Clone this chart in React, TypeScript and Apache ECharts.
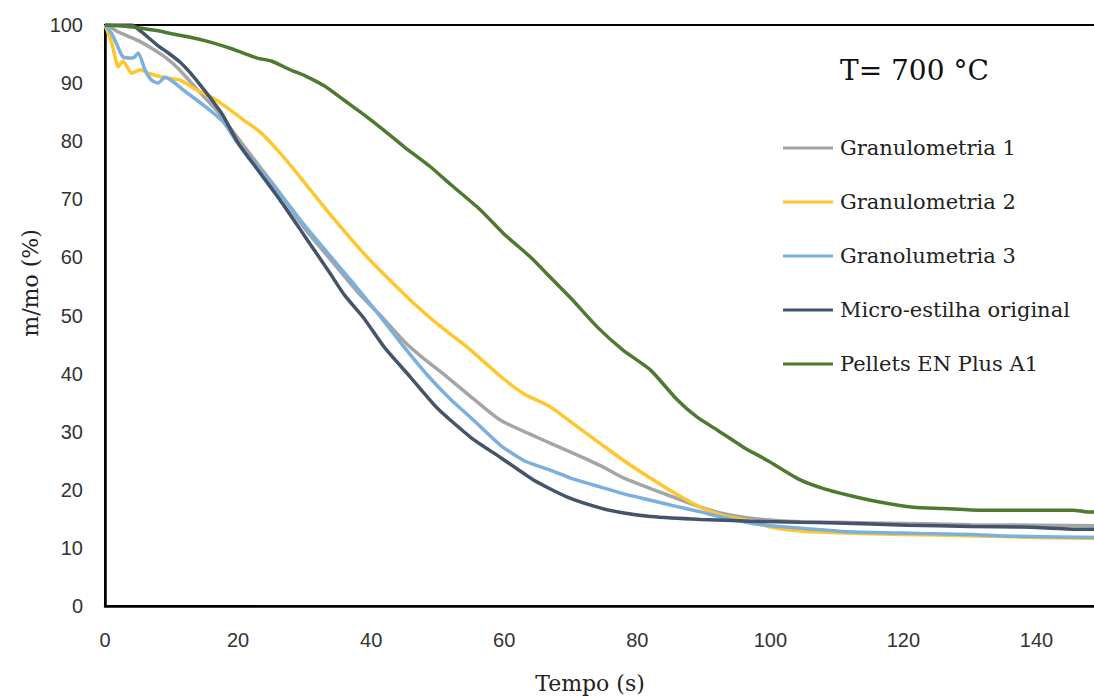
import React, { useEffect, useRef } from "react";
import * as echarts from "echarts";

const seriesNames = [
  "Granulometria 1",
  "Granulometria 2",
  "Granolumetria 3",
  "Micro-estilha original",
  "Pellets EN Plus A1",
];
const seriesColors = ["#A5A5A5", "#FFC72C", "#7BAFDE", "#44546A", "#4E7A30"];

const gran1 = [
  [0, 100], [1, 99.5], [2, 98.8], [3, 98.3], [5, 97.3], [7, 96], [9, 94.5], [11, 92.5],
  [13, 90], [15, 87.5], [17, 85], [20, 80.5], [23, 76], [26, 71.5], [30, 65], [34, 59.5],
  [38, 54], [41.4, 50], [45, 45.5], [48, 42.5], [50.8, 40], [55, 36], [59.4, 32], [65, 29],
  [70, 26.5], [74.4, 24.2], [78, 22], [82, 20.2], [86, 18.5], [89.5, 17], [93, 15.9],
  [97, 15.1], [100, 14.8], [104.5, 14.5], [110, 14.4], [120, 14.2], [130, 14], [140, 13.9],
  [150, 13.8],
];
const gran2 = [
  [0, 100], [1, 97], [2, 92.8], [2.7, 93.8], [4, 91.7], [5.3, 92.3], [6.5, 91.7], [8.8, 91],
  [11.3, 90.5], [13.8, 88.8], [16.3, 87.4], [18.8, 85.4], [21, 83.5], [23.3, 81.6],
  [26.3, 78], [28.5, 75], [31.3, 71], [34, 67.2], [38.8, 60.8], [42, 57], [46.3, 52.2],
  [50, 48.5], [54.4, 44.6], [59.8, 39.2], [63, 36.5], [66.9, 34.3], [70, 31.7], [74.4, 28],
  [78, 25], [82, 22], [86, 19.2], [89.5, 17], [93, 15.5], [97, 14.6], [100, 13.6],
  [104.5, 12.9], [110, 12.6], [120, 12.3], [130, 12.1], [140, 11.8], [150, 11.6],
];
const gran3 = [
  [0, 100], [1, 98.5], [1.8, 96.6], [2.7, 94.5], [4.2, 94.3], [5, 95.2], [6, 92.3], [7, 90.5],
  [8, 90], [9, 91], [10.3, 90.2], [11.8, 88.8], [14.8, 86.2], [17.8, 83.3], [19.8, 79.9],
  [23, 75.5], [26.3, 71], [30, 65.5], [33.8, 60.3], [37, 56], [41.4, 49.8], [45, 44.5],
  [48.4, 39.8], [52, 35.5], [55, 32.4], [59.4, 27.7], [63, 25], [66.9, 23.4], [70, 22],
  [74.4, 20.5], [78, 19.3], [82, 18.2], [86, 17.1], [89.5, 16.2], [93, 15.2], [97, 14.3],
  [100, 13.8], [104.5, 13.4], [111.6, 12.8], [122.5, 12.5], [130, 12.3], [136.7, 12],
  [150, 11.8],
];
const micro = [
  [0, 100], [4, 100], [5.5, 98.8], [7.8, 96.6], [9.5, 95.2], [11.3, 93.6], [12.8, 91.8],
  [14.3, 89.7], [16, 87.2], [17.7, 84.5], [20, 79.7], [23, 75], [26.3, 69.9], [30, 63.7],
  [33.8, 57.3], [36, 53.5], [38.8, 49.7], [42, 44.5], [45.9, 39.4], [50, 34], [55, 29],
  [59.4, 25.6], [64.4, 21.7], [69.4, 18.8], [74.4, 16.9], [78, 16], [82, 15.4], [89.5, 14.9],
  [97, 14.6], [104.5, 14.4], [110, 14.3], [120.6, 13.9], [130, 13.7], [138, 13.6],
  [146.6, 13.2], [150, 13.2],
];
const pellets = [
  [0, 100], [3, 99.8], [5.3, 99.5], [8, 99], [10, 98.5], [12.8, 97.9], [15, 97.3],
  [18.8, 96], [20, 95.5], [22.9, 94.3], [25, 93.8], [27.8, 92.3], [30, 91.3], [33, 89.5],
  [36, 87], [39, 84.5], [41.8, 82], [45, 79], [48.9, 75.6], [52, 72.5], [56.4, 68.2],
  [60, 64], [63.9, 60.1], [67, 56.5], [70, 53], [74, 48], [77.9, 44], [82, 40.6], [86, 35.5],
  [89, 32.5], [92, 30.3], [96, 27.3], [99.5, 25.1], [104.5, 21.7], [108, 20.2],
  [111.6, 19.1], [116, 18], [121.5, 17], [126, 16.8], [131.6, 16.5], [140, 16.5],
  [145.6, 16.5], [147.7, 16.2], [150, 16.2],
];
const allSeries = [gran1, gran2, gran3, micro, pellets];

const serif = "'DejaVu Serif', 'Liberation Serif', serif";
const sans = "'Liberation Sans', Arial, sans-serif";

export default function App() {
  const ref = useRef<HTMLDivElement>(null);
  useEffect(() => {
    if (!ref.current) return;
    const chart = echarts.init(ref.current, null, { renderer: "svg" });
    chart.setOption({
      animation: false,
      backgroundColor: "#fff",
      grid: {
        left: 105,
        top: 25,
        right: 0,
        bottom: 90,
        show: true,
        borderColor: "#000",
        borderWidth: 2,
      },
      xAxis: {
        type: "value",
        min: 0,
        max: 150,
        interval: 20,
        axisLine: { show: true, lineStyle: { color: "#000", width: 2.5 } },
        axisTick: { show: false },
        splitLine: { show: false },
        axisLabel: {
          fontFamily: sans,
          fontSize: 20,
          color: "#333",
          margin: 24,
          showMaxLabel: false,
        },
      },
      yAxis: {
        type: "value",
        min: 0,
        max: 100,
        interval: 10,
        axisLine: { show: true, lineStyle: { color: "#000", width: 2.5 } },
        axisTick: { show: false },
        splitLine: { show: false },
        axisLabel: { fontFamily: sans, fontSize: 20, color: "#333", margin: 22 },
      },
      legend: {
        orient: "vertical",
        left: 783,
        top: 136,
        padding: 0,
        icon: "rect",
        itemWidth: 50,
        itemHeight: 3,
        itemGap: 30,
        data: seriesNames,
        textStyle: {
          fontFamily: serif,
          fontSize: 21,
          lineHeight: 24,
          color: "#222",
          padding: [0, 0, 0, 2],
        },
      },
      graphic: [
        {
          type: "text",
          left: 840,
          top: 56,
          style: { text: "T= 700 °C", font: `28px ${serif}`, fill: "#111" },
        },
        {
          type: "text",
          x: 590,
          y: 683,
          style: {
            text: "Tempo (s)",
            font: `22px ${serif}`,
            fill: "#222",
            align: "center",
            verticalAlign: "middle",
          },
        },
        {
          type: "text",
          x: 30,
          y: 283,
          rotation: Math.PI / 2,
          style: {
            text: "m/mo (%)",
            font: `22px ${serif}`,
            fill: "#222",
            align: "center",
            verticalAlign: "middle",
          },
        },
      ],
      series: allSeries.map((d, i) => ({
        name: seriesNames[i],
        type: "line",
        data: d,
        symbol: "none",
        showSymbol: false,
        smooth: 0.2,
        lineStyle: { color: seriesColors[i], width: 3.5 },
        itemStyle: { color: seriesColors[i] },
      })),
    });
    return () => chart.dispose();
  }, []);
  return (
    <div
      ref={ref}
      style={{ position: "fixed", left: 0, top: 0, width: 1103, height: 696, background: "#fff" }}
    />
  );
}
